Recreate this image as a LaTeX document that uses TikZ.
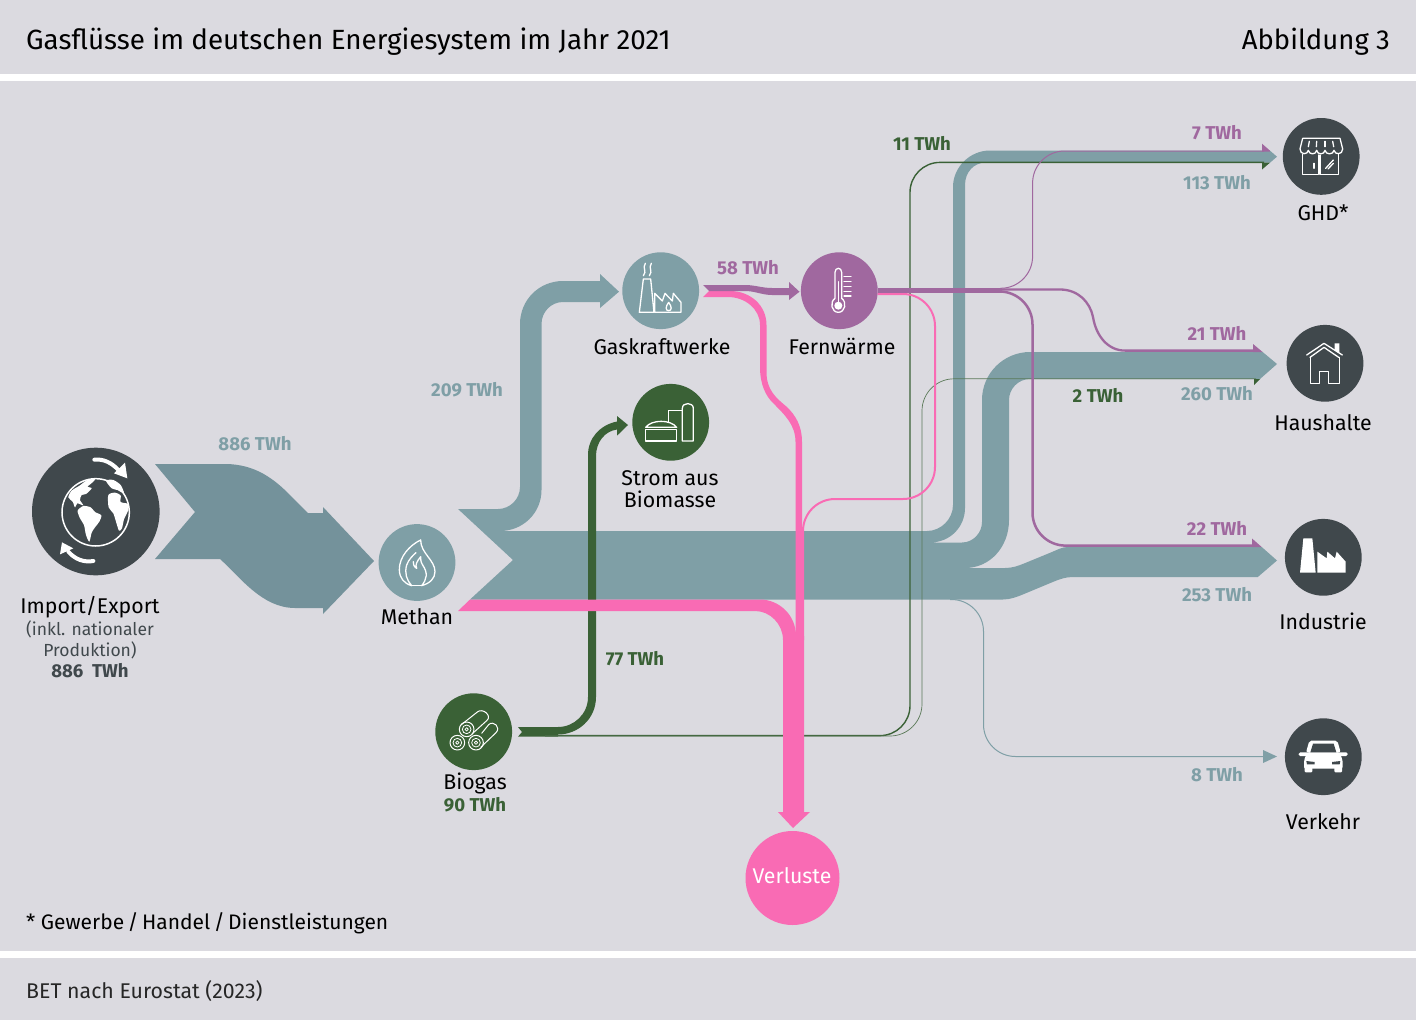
\documentclass[tikz,border=0pt]{standalone}
\usepackage{fontspec}
\setmainfont{Fira Sans}
\definecolor{panel}{HTML}{DBDAE0}
\definecolor{teal}{HTML}{7F9FA6}
\definecolor{tealdk}{HTML}{74929B}
\definecolor{purp}{HTML}{A0689F}
\definecolor{pinkf}{HTML}{F96BB4}
\definecolor{grn}{HTML}{3A6136}
\definecolor{slate}{HTML}{40484C}
\tikzset{
  lab/.style={anchor=base,inner sep=0pt,outer sep=0pt,text=black,font=\fontsize{21.3}{24}\selectfont},
  sub/.style={lab,text=slate,font=\fontsize{17.5}{20}\selectfont},
  val/.style={anchor=base,inner sep=0pt,outer sep=0pt,font=\fontsize{18.6}{20}\selectfont\bfseries},
  hub/.style={circle,inner sep=0pt,outer sep=0pt,minimum size=76.8pt},
  ico/.style={draw=white,line width=1.3pt,line join=round,line cap=round,fill=none},
}
\begin{document}
\begin{tikzpicture}[x=1pt,y=-1pt]
\useasboundingbox (0,0) rectangle (1416,1020);
\fill[white] (0,0) rectangle (1416,1020);
\fill[panel] (0,0) rectangle (1416,74);
\fill[panel] (0,81) rectangle (1416,951);
\fill[panel] (0,958) rectangle (1416,1020);

% hubs
\node[hub,fill=slate,minimum size=127.6pt] (imp) at (95.8,511.5) {};
\node[hub,fill=teal] (meth) at (417,562.5) {};
\node[hub,fill=teal] (gas) at (660.7,290.7) {};
\node[hub,fill=purp] (fern) at (839.3,290.7) {};
\node[hub,fill=grn] (strom) at (670.7,422.3) {};
\node[hub,fill=grn] (bio) at (473.7,731.7) {};
\node[hub,fill=slate] (ghd) at (1321.2,156.4) {};
\node[hub,fill=slate] (haus) at (1325,363.3) {};
\node[hub,fill=slate] (ind) at (1323.3,557.3) {};
\node[hub,fill=slate] (verk) at (1323.3,756.7) {};
\node[hub,fill=pinkf,minimum size=94pt] (verl) at (792.5,878) {};

% arrow tips
\coordinate (tipMeth) at (374,561);
\coordinate (tipGas) at (619,291.7);
\coordinate (tipGHD) at (1277,156.7);
\coordinate (tipHaus) at (1277,364);
\coordinate (tipInd) at (1277,560.5);
\coordinate (tipVerk) at (1277,756.5);
\coordinate (tipFern) at (799.5,291.7);
\coordinate (tipStrom) at (628,425);
\coordinate (tipVerl) at (793,828);

% import flow
\fill[tealdk] (155,464) -- (225,464) .. controls (256,464) and (275,480) .. (290,495) -- (308,513) -- (323,513) -- (323,507) -- (tipMeth) -- (323,614) -- (323,608) -- (295,608) .. controls (262,608) and (240,577) .. (220,559) -- (155,559) -- (195,512) -- cycle;

% main methane body
\fill[teal] (458,509) -- (498,509) .. controls (510,509) and (520,499) .. (520,487) -- (520,324) .. controls (520,300) and (539,281) .. (563,281) -- (600,281) -- (600,274) -- (tipGas) -- (600,308) -- (600,302) -- (563,302) .. controls (551,302) and (541.5,312) .. (541.5,324) -- (541.5,490) .. controls (541.5,513) and (523,531) .. (500,531) -- (927,531) .. controls (941,531) and (953,519) .. (953,505) -- (953,187) .. controls (953,167) and (970,150.5) .. (990,150.5) -- (1269.8,150.5) -- (tipGHD) -- (1270.2,162.5) -- (986,162.5) .. controls (974,162.5) and (965,172) .. (965,185) -- (965,508) .. controls (965,527) and (950,542.5) .. (930,542.5) -- (962,542.5) .. controls (973,542.5) and (982,533) .. (982,522) -- (982,400) .. controls (982,373) and (1004,352) .. (1030,352) -- (1262.6,352) -- (tipHaus) -- (1260,379) -- (1030,379) .. controls (1018,379) and (1009,389) .. (1009,400) -- (1009,520) .. controls (1009,547) and (990,568) .. (965,568) -- (1005,568) .. controls (1012,568) and (1018,566) .. (1024,563.5) -- (1052,552) .. controls (1058,549.5) and (1062,547) .. (1068,547) -- (1261.7,547) -- (tipInd) -- (1257.8,577) -- (1073,577) .. controls (1066,577) and (1060,579) .. (1054,581.5) -- (1024,594) .. controls (1017,597) and (1010,599.5) .. (1003,599.5) -- (470,599.5) -- (513,560) -- cycle;

% Verkehr
\draw[teal,line width=1pt,rounded corners=32pt] (950,599.5) -- (983.5,599.5) -- (983.5,756.5) -- (1264,756.5);
\fill[teal] (1263,750) -- (tipVerk) -- (1263,763) -- cycle;

% green
\fill[grn] (518,727) -- (558,727) .. controls (574,727) and (588,714) .. (588,697) -- (588,455) .. controls (588,438) and (600,425) .. (617,421.5) -- (617,416) -- (tipStrom) -- (617,435.7) -- (617,429.5) .. controls (605,431) and (596,442) .. (596,456) -- (596,697) .. controls (596,719) and (578,734.5) .. (558,734.5) -- (558,736.5) -- (518,736.7) -- (522,732) -- cycle;
\draw[grn,line width=1.4pt,rounded corners=30pt] (545,735.6) -- (910,735.6) -- (910,162.4) -- (1264,162.4);
\draw[grn!80!panel,line width=.7pt,rounded corners=32pt] (545,736) -- (922,736) -- (922,378.8) -- (1256,378.8);
\fill[grn] (1262,162.5) -- (1270.2,162.5) -- (1262,169.5) -- cycle;
\fill[grn] (1254,379) -- (1260,379) -- (1254,385) -- cycle;

% pink
\fill[pinkf] (458,611) -- (470,599.5) -- (760,599.5) .. controls (779,599.5) and (796,615) .. (796,636) -- (804,636) -- (804,812) -- (810,812) -- (tipVerl) -- (778,812) -- (783,812) -- (783,640) .. controls (783,624) and (770,611) .. (755,611) -- cycle;
\fill[pinkf] (709,291) -- (730,291) .. controls (750,291) and (766.5,305) .. (766.5,325) -- (766.5,372) .. controls (766.5,390) and (776,398) .. (787,407) .. controls (795,415) and (802,425) .. (802,442) -- (802,700) -- (795.5,700) -- (795.5,442) .. controls (795.5,425) and (785,415) .. (773,403) .. controls (766,396) and (760,385) .. (760,367) -- (760,325) .. controls (760,309) and (745,297) .. (728,297) -- (703,297) -- cycle;
\draw[pinkf,line width=2pt,rounded corners=32pt] (fern.east |- 0,294) -- (935,294) -- (935,499) -- (803,499) -- (803,640);

% purple
\fill[purp] (703,285) -- (745,285) .. controls (755,285) and (762,288) .. (772,288) -- (789,288) -- (789,282) -- (tipFern) -- (789,300) -- (789,295) -- (772,295) .. controls (762,295) and (755,291) .. (745,291) -- (709,291) -- cycle;
\fill[purp] (fern.east |- 0,288) rectangle (1002,293);
\draw[purp,line width=1pt,rounded corners=32pt] (1000,288.3) -- (1032.6,288.3) -- (1032.6,151) -- (1264,151);
\draw[purp,line width=2.3pt] (1000,289.5) -- (1060,289.5) .. controls (1078,289.5) and (1090,302) .. (1093,317) .. controls (1096,336) and (1108,350.6) .. (1125,350.6) -- (1256,350.6);
\draw[purp,line width=2.5pt,rounded corners=33pt] (1000,291.5) -- (1032.5,291.5) -- (1032.5,545.6) -- (1256,545.6);
\fill[purp] (1262,143.7) -- (1269.8,150.5) -- (1269.8,151.5) -- (1262,151.5) -- cycle;
\fill[purp] (1253,344) -- (1262.6,352) -- (1253,352) -- cycle;
\fill[purp] (1252,538.5) -- (1261.7,547) -- (1252,547) -- cycle;

% ---- icons ----
% globe
\begin{scope}[shift={(0,420)},scale=1/3]
\draw[draw=white,line width=1.5pt] (287,277) circle (101);
% North America
\fill[white] plot[smooth cycle,tension=.45] coordinates {(205,232)(215,212)(240,196)(262,180)(285,178)(272,192)(262,200)(275,205)(258,222)(245,225)(240,240)(250,256)(232,250)(225,262)(218,245)};
% South America
\fill[white] plot[smooth cycle,tension=.45] coordinates {(233,272)(250,258)(272,262)(285,276)(304,286)(298,305)(285,322)(275,338)(268,365)(258,345)(252,315)(240,295)};
% Africa
\fill[white] plot[smooth cycle,tension=.45] coordinates {(325,225)(345,218)(362,226)(362,246)(385,252)(384,272)(372,298)(366,325)(357,332)(348,305)(340,280)(326,262)};
% Europe/Greenland bits
\fill[white] plot[smooth cycle,tension=.45] coordinates {(318,182)(340,180)(362,195)(372,220)(352,210)(335,205)};
\draw[white,line width=4pt,line cap=round] (283,119) .. controls (310,116) and (335,128) .. (355,150);
\fill[white] (342,160) -- (375,128) -- (382,175) -- cycle;
\draw[white,line width=4pt,line cap=round] (280,423) .. controls (252,428) and (225,418) .. (205,395);
\fill[white] (180,403) -- (186,367) -- (220,385) -- cycle;
\end{scope}
% flame
\begin{scope}[shift={(0,420)},scale=1/3]
\draw[ico] (1262,360) .. controls (1230,375) and (1197,410) .. (1198,450) .. controls (1199,475) and (1212,490) .. (1235,497) .. controls (1220,480) and (1213,460) .. (1220,435) .. controls (1226,418) and (1240,405) .. (1248,398);
\draw[ico] (1262,360) .. controls (1262,400) and (1305,420) .. (1305,455) .. controls (1305,475) and (1290,490) .. (1265,497) .. controls (1280,478) and (1285,460) .. (1268,435) .. controls (1262,425) and (1262,420) .. (1262,410) .. controls (1250,425) and (1245,435) .. (1250,445) .. controls (1240,440) and (1240,430) .. (1240,425);
\draw[ico] (1235,497) -- (1265,497);
\end{scope}
% gas plant
\begin{scope}[shift={(610,245)},scale=1/3]
\draw[ico] (100,102) -- (122,102) -- (132,202) -- (88,202) -- cycle;
\draw[ico] (134,202) -- (134,145) -- (157,168) -- (165,145) -- (187,168) -- (190,145) -- (213,172) -- (213,202) -- cycle;
\draw[ico] (106,55) .. controls (96,70) and (112,78) .. (100,92);
\draw[ico] (124,55) .. controls (114,70) and (130,78) .. (118,92);
\draw[ico] (176,172) .. controls (166,185) and (166,197) .. (176,197) .. controls (186,197) and (186,185) .. (176,172);
\end{scope}
% thermometer
\begin{scope}[shift={(790,245)},scale=1/3]
\draw[ico] (135,160) -- (135,82) .. controls (135,66) and (155,66) .. (155,82) -- (155,160) .. controls (172,172) and (165,202) .. (145,202) .. controls (125,202) and (118,172) .. (135,160) -- cycle;
\fill[white] (145,182) circle (12);
\draw[ico] (145,110) -- (145,175);
\foreach \yy in {95,110,125,140,153} \draw[ico] (162,\yy) -- (183,\yy);
\end{scope}
% biogas plant
\begin{scope}[shift={(625,380)},scale=1/3]
\draw[ico] (62,148) -- (62,183) -- (155,183) -- (155,148) -- cycle;
\draw[ico] (62,142) .. controls (80,118) and (137,118) .. (155,142) -- cycle;
\draw[ico] (130,125) -- (130,92) -- (172,92);
\draw[ico] (172,183) -- (172,85) .. controls (172,66) and (205,66) .. (205,85) -- (205,183) -- cycle;
\end{scope}
% logs
\begin{scope}[shift={(430,690)},scale=1/3]
\draw[ico,line width=1pt] (94,104) -- (142,66) .. controls (158,52) and (188,78) .. (170,92) -- (126,132);
\draw[ico,line width=1pt] (155,130) -- (176,104) .. controls (190,90) and (214,112) .. (198,128) -- (152,172);
\foreach \cx/\cy in {110/118,82/158,138/158}{
  \draw[ico,line width=1pt] (\cx,\cy) circle (22);
  \draw[ico,line width=.8pt] (\cx,\cy) circle (13);
  \draw[ico,line width=.8pt] (\cx,\cy) circle (5);
}
\end{scope}
% shop
\begin{scope}[shift={(1270,105)},scale=1/3]
\draw[ico] (98,100) -- (210,100) -- (218,132) .. controls (218,150) and (194,150) .. (192,136) .. controls (190,150) and (167,150) .. (165,136) .. controls (163,150) and (142,150) .. (140,136) .. controls (138,150) and (117,150) .. (115,136) .. controls (113,150) and (90,150) .. (90,132) -- cycle;
\foreach \xa/\xb in {118/115,140/139,165/165,188/191} \draw[ico] (\xa,109) -- (\xb,125);
\draw[ico] (98,148) -- (98,208) -- (145,208) -- (145,150);
\draw[ico] (150,150) -- (150,208) -- (205,208) -- (205,148);
\draw[ico] (132,175) -- (132,190);
\draw[ico] (167,190) -- (190,165);
\draw[ico] (174,192) -- (190,175);
\end{scope}
% house
\begin{scope}[shift={(1280,320)},scale=1/3]
\draw[ico] (80,105) -- (132,70) -- (187,105);
\draw[ico] (90,112) -- (132,82) -- (176,112);
\draw[ico] (92,112) -- (92,190) -- (118,190) -- (118,155) -- (145,155) -- (145,190) -- (178,190) -- (178,112);
\fill[white] (164,70) -- (178,70) -- (178,100) -- (164,90) -- cycle;
\end{scope}
% industry
\begin{scope}[shift={(1280,320)},scale=1/3]
\fill[white] (70,655) -- (97,655) -- (107,758) -- (60,758) -- cycle;
\fill[white] (112,758) -- (112,695) -- (140,715) -- (142,695) -- (165,715) -- (170,695) -- (197,725) -- (197,758) -- cycle;
\end{scope}
% car
\begin{scope}[shift={(880,500)},scale=1/3]
\fill[white,rounded corners=1.5pt] (1256,757) rectangle (1403,768);
\fill[white,rounded corners=2pt] (1278,757) -- (1288,722) -- (1372,722) -- (1382,757) -- cycle;
\fill[white,rounded corners=2pt] (1272,806) -- (1272,780) -- (1282,757) -- (1378,757) -- (1388,780) -- (1388,806) -- cycle;
\fill[white,rounded corners=1pt] (1274,798) rectangle (1297,817);
\fill[white,rounded corners=1pt] (1363,798) rectangle (1386,817);
\fill[slate] (1291,757) -- (1299,731) -- (1361,731) -- (1369,757) -- cycle;
\fill[slate] (1279,783) -- (1304,786) -- (1304,793) -- (1281,793) -- cycle;
\fill[slate] (1381,783) -- (1356,786) -- (1356,793) -- (1379,793) -- cycle;
\end{scope}

% ---- text ----
\node[anchor=base west,inner sep=0pt,font=\fontsize{27.8}{30}\selectfont] (title) at (26,49.5) {Gasflüsse im deutschen Energiesystem im Jahr 2021};
\node[anchor=base east,inner sep=0pt,font=\fontsize{27.5}{30}\selectfont] (fig) at (1390,49.5) {Abbildung 3};
\node[anchor=base west,inner sep=0pt,font=\fontsize{21}{24}\selectfont] (note) at (26,929) {* Gewerbe\,/\,Handel\,/\,Dienstleistungen};
\node[anchor=base west,inner sep=0pt,font=\fontsize{21.3}{24}\selectfont,text=black!85] (src) at (26,998) {BET nach Eurostat (2023)};

\node[lab] (limp) at (90,613.3) {Import/Export};
\node[sub] (limp2) at (90,635) {(inkl. nationaler};
\node[sub] (limp3) at (90,656.7) {Produktion)};
\node[val,text=slate] (limp4) at (90,677.7) {886\ \ TWh};
\node[val,text=teal] (v886) at (255,450.7) {886 TWh};
\node[val,text=teal] (v209) at (467,396) {209 TWh};
\node[val,text=purp] (v58) at (748,274) {58 TWh};
\node[val,text=grn] (v77) at (635,665.7) {77 TWh};
\node[lab] (lmeth) at (417,624.3) {Methan};
\node[lab] (lgas) at (662,354) {Gaskraftwerke};
\node[lab] (lfern) at (842,354) {Fernwärme};
\node[lab] (lstrom) at (670,485.7) {Strom aus};
\node[lab] (lstrom2) at (670,507.7) {Biomasse};
\node[lab] (lbio) at (475,789.3) {Biogas};
\node[val,text=grn] (v90) at (475,811) {90 TWh};
\node[lab,text=white] (lverl) at (792,883) {Verluste};
\node[lab] (lghd) at (1323,220.7) {GHD*};
\node[lab] (lhaus) at (1323,430.7) {Haushalte};
\node[lab] (lind) at (1323,629.3) {Industrie};
\node[lab] (lverk) at (1323,829) {Verkehr};
\node[val,text=grn] (v11) at (922,150.7) {11 TWh};
\node[val,text=purp] (v7) at (1217,139.3) {7 TWh};
\node[val,text=teal] (v113) at (1217,189) {113 TWh};
\node[val,text=purp] (v21) at (1217,340.7) {21 TWh};
\node[val,text=teal] (v260) at (1217,400.7) {260 TWh};
\node[val,text=grn] (v2) at (1098,402.7) {2 TWh};
\node[val,text=purp] (v22) at (1217,535) {22 TWh};
\node[val,text=teal] (v253) at (1217,601) {253 TWh};
\node[val,text=teal] (v8) at (1217,781.7) {8 TWh};
\end{tikzpicture}
\end{document}
